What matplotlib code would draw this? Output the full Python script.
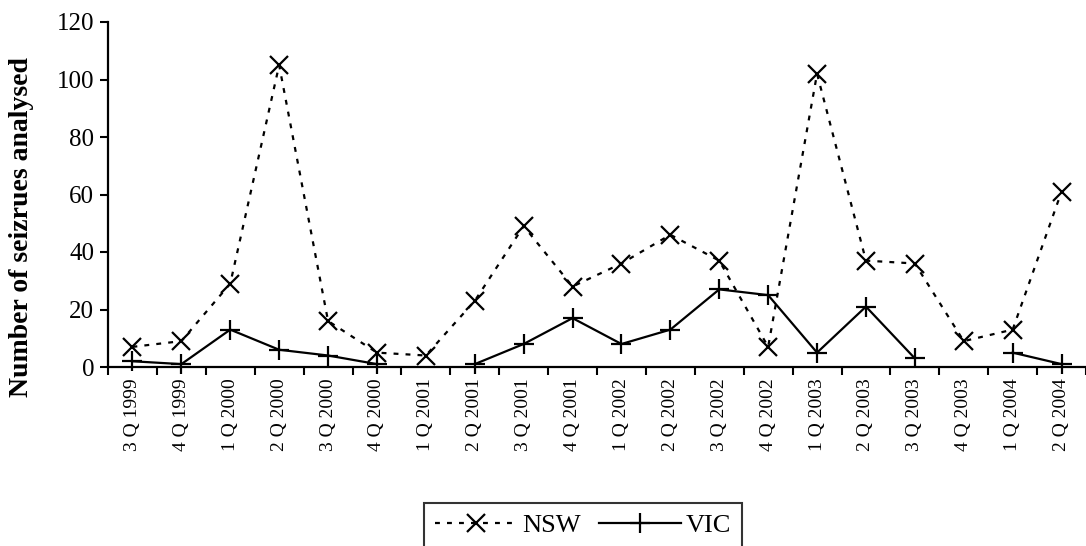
import matplotlib
matplotlib.use("Agg")
import matplotlib.pyplot as plt
import numpy as np

quarters = ["3 Q 1999", "4 Q 1999", "1 Q 2000", "2 Q 2000", "3 Q 2000", "4 Q 2000",
            "1 Q 2001", "2 Q 2001", "3 Q 2001", "4 Q 2001", "1 Q 2002", "2 Q 2002",
            "3 Q 2002", "4 Q 2002", "1 Q 2003", "2 Q 2003", "3 Q 2003", "4 Q 2003",
            "1 Q 2004", "2 Q 2004"]
nsw = [7, 9, 29, 105, 16, 5, 4, 23, 49, 28, 36, 46, 37, 7, 102, 37, 36, 9, 13, 61]
vic = [2, 1, 13, 6, 4, 1, np.nan, 1, 8, 17, 8, 13, 27, 25, 5, 21, 3, np.nan, 5, 1]

plt.rcParams['font.family'] = ['Liberation Serif', 'DejaVu Serif']

fig = plt.figure(figsize=(10.86, 5.46), dpi=100)
ax = fig.add_axes([108/1086, 1 - 367/546, 1 - 108/1086, (367 - 22)/546])

x = np.arange(len(quarters))
ax.plot(x, nsw, color='black', linestyle=(0, (2.2, 3.2)), linewidth=1.6,
        marker='x', markersize=12.5, markeredgewidth=1.6, label='NSW', clip_on=False)
ax.plot(x, vic, color='black', linestyle='-', linewidth=1.6,
        marker='+', markersize=14, markeredgewidth=1.6, label='VIC', clip_on=False)

ax.set_xlim(-0.5, len(quarters) - 0.5)
ax.set_ylim(0, 120)
ax.set_yticks(np.arange(0, 121, 20))
ax.set_xticks(x)
ax.set_xticklabels(quarters, rotation=90, fontsize=14)
ax.set_xticks(np.arange(-0.5, len(quarters), 1), minor=True)
ax.tick_params(axis='x', which='major', length=0, pad=8)
ax.tick_params(axis='x', which='minor', length=6, width=1.5, direction='out')
ax.tick_params(axis='y', which='major', length=6, width=1.5, direction='out', labelsize=18, pad=4)

for s in ['top', 'right']:
    ax.spines[s].set_visible(False)
for s in ['left', 'bottom']:
    ax.spines[s].set_linewidth(1.6)

ax.set_ylabel('Number of seizrues analysed', fontsize=20, fontweight='bold')
ax.yaxis.set_label_coords(-0.076, 0.405)

leg = fig.legend(loc='upper center', bbox_to_anchor=(583/1086, 1 - 503/546), ncol=2,
                 frameon=True, fancybox=False, edgecolor='black', fontsize=19,
                 handlelength=3.1, columnspacing=0.7, handletextpad=0.2,
                 borderpad=0.4, borderaxespad=0)
leg.get_frame().set_linewidth(1.5)

fig.savefig('out.png', dpi=100)
